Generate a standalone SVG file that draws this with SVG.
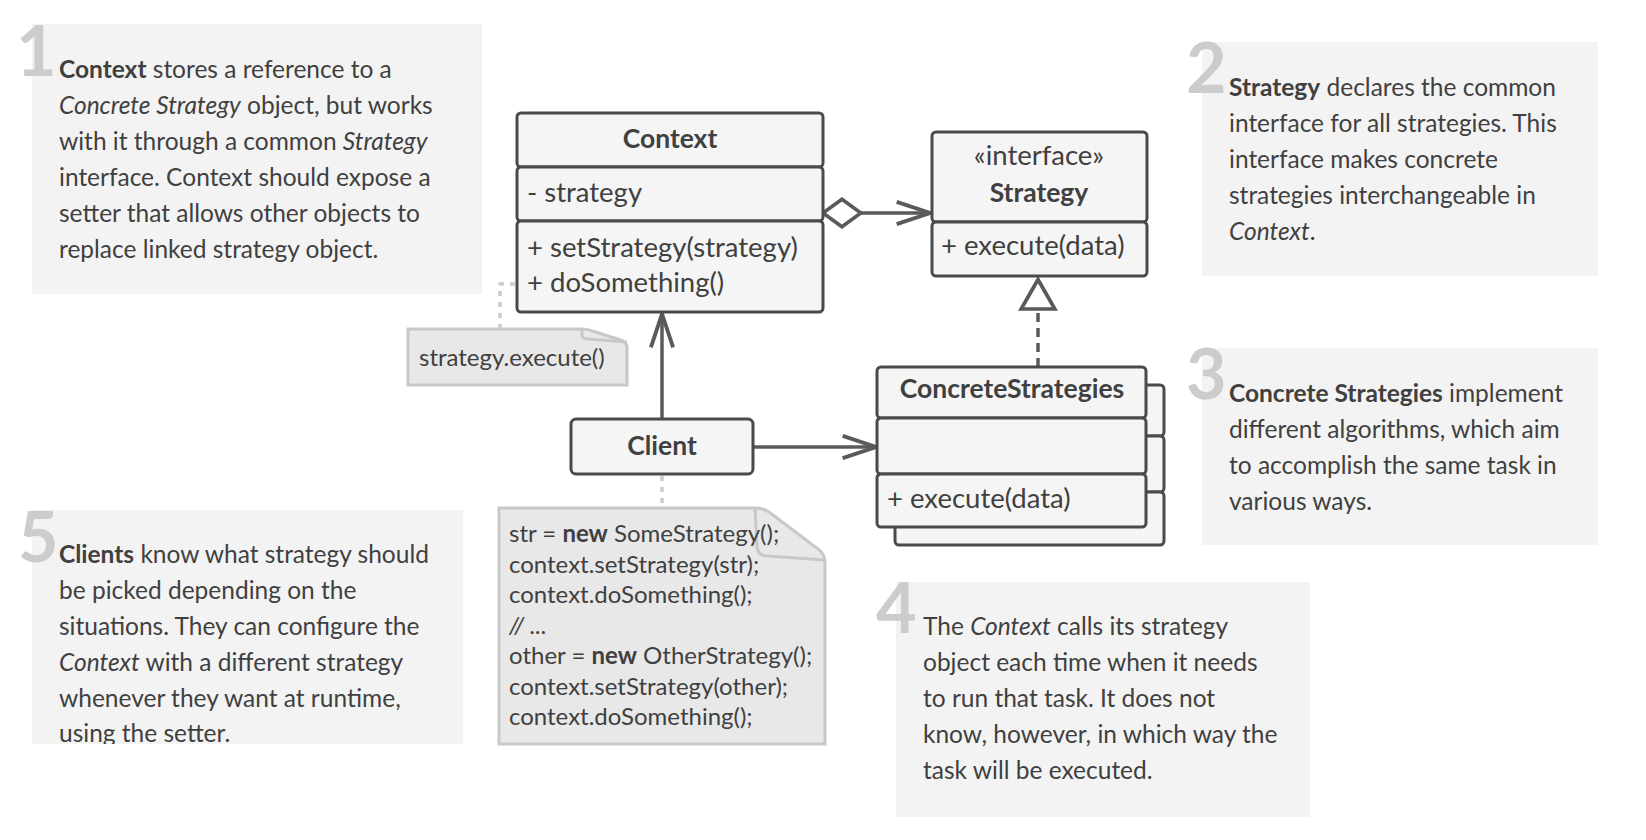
<svg xmlns="http://www.w3.org/2000/svg" width="1646" height="840" viewBox="0 0 1646 840">
<style>
text{font-family:Lato,"Noto Sans",sans-serif;fill:#404040}
.info{fill:#f3f3f3}
.num{font-size:70px;font-weight:bold;fill:#cccccc}
.body{font-size:24.5px}
.box{fill:#f5f5f5;stroke:#4a4a4a;stroke-width:3}
.title{font-size:26.5px;font-weight:bold;text-anchor:middle}
.mem{font-size:27.5px}
.note{fill:#e8e8e8;stroke:#c8c8c8;stroke-width:3}
.code{font-size:24px}
.conn{fill:none;stroke:#5a5a5a;stroke-width:3.5}
.dot{fill:none;stroke:#cccccc;stroke-width:3.5;stroke-dasharray:5 6}
</style>
<defs>
<marker id="open" markerUnits="userSpaceOnUse" markerWidth="40" markerHeight="30" viewBox="-2 -2 36 26" refX="30" refY="10" orient="auto">
<path d="M0,0 L30,10 L0,20" fill="none" stroke="#5a5a5a" stroke-width="3.5"/>
</marker>
<marker id="diamond" markerUnits="userSpaceOnUse" markerWidth="44" markerHeight="34" viewBox="-3 -3 43 33" refX="0" refY="13.5" orient="auto">
<path d="M0,13.5 L18.5,0 L37,13.5 L18.5,27 Z" fill="#fff" stroke="#5a5a5a" stroke-width="3.5"/>
</marker>
<marker id="tri" markerUnits="userSpaceOnUse" markerWidth="40" markerHeight="40" viewBox="-3 -3 34 38" refX="28" refY="16" orient="auto">
<path d="M0,0 L28,16 L0,32 Z" fill="#fff" stroke="#5a5a5a" stroke-width="3.5"/>
</marker>
<clipPath id="clip5"><rect x="0" y="505" width="470" height="239"/></clipPath>
</defs>

<g id="info1">
<rect class="info" x="32" y="24" width="450" height="270"/>
<text class="num" x="16" y="76">1</text>
<text class="body" x="59" y="78"><tspan font-weight="bold">Context</tspan> stores a reference to a</text>
<text class="body" x="59" y="114"><tspan font-style="italic">Concrete Strategy</tspan> object, but works</text>
<text class="body" x="59" y="150">with it through a common <tspan font-style="italic">Strategy</tspan></text>
<text class="body" x="59" y="186">interface. Context should expose a</text>
<text class="body" x="59" y="222">setter that allows other objects to</text>
<text class="body" x="59" y="258">replace linked strategy object.</text>
</g>

<g id="info2">
<rect class="info" x="1202" y="42" width="396" height="234"/>
<text class="num" x="1186" y="93">2</text>
<text class="body" x="1229" y="96"><tspan font-weight="bold">Strategy</tspan> declares the common</text>
<text class="body" x="1229" y="132">interface for all strategies. This</text>
<text class="body" x="1229" y="168">interface makes concrete</text>
<text class="body" x="1229" y="204">strategies interchangeable in</text>
<text class="body" x="1229" y="240"><tspan font-style="italic">Context</tspan>.</text>
</g>

<g id="info3">
<rect class="info" x="1202" y="348" width="396" height="197"/>
<text class="num" x="1186" y="399">3</text>
<text class="body" x="1229" y="402"><tspan font-weight="bold">Concrete Strategies</tspan> implement</text>
<text class="body" x="1229" y="438">different algorithms, which aim</text>
<text class="body" x="1229" y="474">to accomplish the same task in</text>
<text class="body" x="1229" y="510">various ways.</text>
</g>

<g id="info4">
<rect class="info" x="896" y="582" width="414" height="235"/>
<text class="num" x="876" y="633">4</text>
<text class="body" x="923" y="635">The <tspan font-style="italic">Context</tspan> calls its strategy</text>
<text class="body" x="923" y="671">object each time when it needs</text>
<text class="body" x="923" y="707">to run that task. It does not</text>
<text class="body" x="923" y="743">know, however, in which way the</text>
<text class="body" x="923" y="779">task will be executed.</text>
</g>

<g id="info5">
<rect class="info" x="32" y="510" width="431" height="234"/>
<text class="num" x="18" y="562">5</text>
<g clip-path="url(#clip5)">
<text class="body" x="59" y="563"><tspan font-weight="bold">Clients</tspan> know what strategy should</text>
<text class="body" x="59" y="599">be picked depending on the</text>
<text class="body" x="59" y="635">situations. They can configure the</text>
<text class="body" x="59" y="671"><tspan font-style="italic">Context</tspan> with a different strategy</text>
<text class="body" x="59" y="707">whenever they want at runtime,</text>
<text class="body" x="59" y="742">using the setter.</text>
</g>
</g>

<g id="connectors">
<path class="dot" d="M500,329 V284 H516"/>
<path class="dot" d="M662,476 V508"/>
<path class="conn" d="M823,213 H930" marker-start="url(#diamond)" marker-end="url(#open)"/>
<path class="conn" d="M662,419 V314" marker-end="url(#open)"/>
<path class="conn" d="M753,447 H876" marker-end="url(#open)"/>
<path class="conn" d="M1038,367 V307" stroke-dasharray="9 6"/>
<path class="conn" d="M1038,307 V279.5" stroke="none" marker-end="url(#tri)"/>
</g>

<g id="context">
<rect class="box" x="517" y="113" width="306" height="54" rx="4"/>
<rect class="box" x="517" y="167" width="306" height="54" rx="4"/>
<rect class="box" x="517" y="221" width="306" height="91" rx="4"/>
<text class="title" x="670" y="148">Context</text>
<text class="mem" x="527" y="202">- strategy</text>
<text class="mem" x="527" y="257">+ setStrategy(strategy)</text>
<text class="mem" x="527" y="292">+ doSomething()</text>
</g>

<g id="strategy">
<rect class="box" x="932" y="132" width="215" height="90" rx="4"/>
<rect class="box" x="932" y="222" width="215" height="54" rx="4"/>
<text class="mem" x="1039" y="165" text-anchor="middle">«interface»</text>
<text class="title" x="1039" y="202">Strategy</text>
<text class="mem" x="941" y="255">+ execute(data)</text>
</g>

<g id="concrete">
<rect class="box" x="895" y="385" width="269" height="51" rx="4"/>
<rect class="box" x="895" y="436" width="269" height="56" rx="4"/>
<rect class="box" x="895" y="492" width="269" height="53" rx="4"/>
<rect class="box" x="877" y="367" width="269" height="51" rx="4"/>
<rect class="box" x="877" y="418" width="269" height="56" rx="4"/>
<rect class="box" x="877" y="474" width="269" height="53" rx="4"/>
<text class="title" x="1012" y="398" font-size="27.5">ConcreteStrategies</text>
<text class="mem" x="887" y="508">+ execute(data)</text>
</g>

<g id="client">
<rect class="box" x="571" y="419" width="182" height="55" rx="5"/>
<text class="title" x="662" y="455">Client</text>
</g>

<g id="note1">
<path class="note" d="M408,329 H582 Q588,329 594,331.5 L621,340 Q627,342 627,348 V385 H408 Z"/>
<path d="M582,329 V334 Q582,339 587,339 L627,342" fill="none" stroke="#c8c8c8" stroke-width="3"/>
<text class="code" x="419" y="366">strategy.execute()</text>
</g>

<g id="note2">
<path class="note" d="M499,508 H755 Q765,508 773,515 L818,549 Q825,554 825,563 V744 H499 Z"/>
<path d="M755,508 L757,547 Q758,556 767,556 L825,560" fill="none" stroke="#c8c8c8" stroke-width="3"/>
<text class="code" x="509" y="542">str = <tspan font-weight="bold">new</tspan> SomeStrategy();</text>
<text class="code" x="509" y="572.5">context.setStrategy(str);</text>
<text class="code" x="509" y="603">context.doSomething();</text>
<text class="code" x="509" y="633.5" font-style="italic" fill="#999">// ...</text>
<text class="code" x="509" y="664">other = <tspan font-weight="bold">new</tspan> OtherStrategy();</text>
<text class="code" x="509" y="694.5">context.setStrategy(other);</text>
<text class="code" x="509" y="725">context.doSomething();</text>
</g>
</svg>
